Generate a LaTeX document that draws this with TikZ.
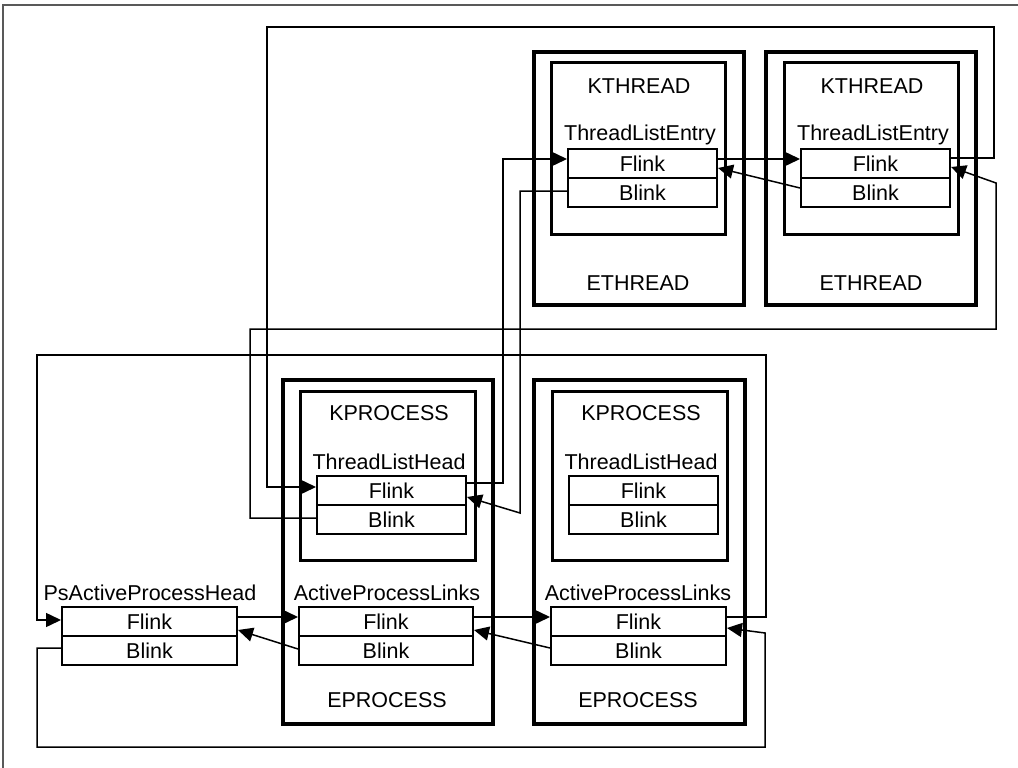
\documentclass[tikz,border=0pt]{standalone}
\usepackage{fontspec}
\setmainfont{Liberation Sans}
\usetikzlibrary{arrows.meta,calc}
\tikzset{
  obox/.style={draw, line width=4pt, inner sep=0pt},
  ibox/.style={draw, line width=3pt, inner sep=0pt},
  cell/.style={draw, line width=2pt, inner sep=0pt, minimum height=29pt},
  lbl/.style={inner sep=0pt},
  conn/.style={line width=1.5pt, -{Triangle[length=15pt,width=14pt]}},
}
\begin{document}
\begin{tikzpicture}[x=1pt,y=-1pt,font=\fontsize{21.5}{25}\selectfont]
\useasboundingbox (0,0) rectangle (1018,768);
\draw[gray!70!black, line width=1.5pt] (3,768) -- (3,5) -- (1018,5);

% ---- threads ----
\node[obox, minimum width=210, minimum height=253] (e1) at (639,178.5) {};
\node[ibox, minimum width=174, minimum height=171] (k1) at (638,148.5) {};
\node[lbl] (k1l) at (639,86) {KTHREAD};
\node[lbl] (t1l) at (640,135) {ThreadListEntry};
\node[cell, minimum width=149] (t1f) at (642.5,163.5) {Flink};
\node[cell, minimum width=149] (t1b) at (642.5,192.5) {Blink};
\node[lbl] (e1l) at (638,283) {ETHREAD};

\node[obox, minimum width=210, minimum height=253] (e2) at (871,178.5) {};
\node[ibox, minimum width=174, minimum height=171] (k2) at (871,148.5) {};
\node[lbl] (k2l) at (872,86) {KTHREAD};
\node[lbl] (t2l) at (873,135) {ThreadListEntry};
\node[cell, minimum width=149] (t2f) at (875.5,163.5) {Flink};
\node[cell, minimum width=149] (t2b) at (875.5,192.5) {Blink};
\node[lbl] (e2l) at (871,283) {ETHREAD};

% ---- processes ----
\node[obox, minimum width=210, minimum height=344] (p1) at (388,552) {};
\node[ibox, minimum width=175, minimum height=169] (kp1) at (387.5,475.5) {};
\node[lbl] (kp1l) at (389,413) {KPROCESS};
\node[lbl] (h1l) at (389,462) {ThreadListHead};
\node[cell, minimum width=149] (tlh1f) at (391.5,490.5) {Flink};
\node[cell, minimum width=149] (tlh1b) at (391.5,519.5) {Blink};
\node[lbl] (a1l) at (387,593) {ActiveProcessLinks};
\node[cell, minimum width=174] (apl1f) at (386,621.5) {Flink};
\node[cell, minimum width=174] (apl1b) at (386,650.5) {Blink};
\node[lbl] (p1l) at (387,700) {EPROCESS};

\node[obox, minimum width=211, minimum height=344] (p2) at (639.5,552) {};
\node[ibox, minimum width=175, minimum height=169] (kp2) at (639.5,475.5) {};
\node[lbl] (kp2l) at (641,413) {KPROCESS};
\node[lbl] (h2l) at (641,462) {ThreadListHead};
\node[cell, minimum width=149] (tlh2f) at (643.5,490.5) {Flink};
\node[cell, minimum width=149] (tlh2b) at (643.5,519.5) {Blink};
\node[lbl] (a2l) at (638,593) {ActiveProcessLinks};
\node[cell, minimum width=175] (apl2f) at (638.5,621.5) {Flink};
\node[cell, minimum width=175] (apl2b) at (638.5,650.5) {Blink};
\node[lbl] (p2l) at (638,700) {EPROCESS};

% ---- list head ----
\node[lbl] (hl) at (150,593) {PsActiveProcessHead};
\node[cell, minimum width=175] (pahf) at (149.5,621.5) {Flink};
\node[cell, minimum width=175] (pahb) at (149.5,650.5) {Blink};

% ---- thread list connectors ----
\draw[conn] ($(t1f.east)+(0,-4.5)$) -- ($(t2f.west)+(0,-4.5)$);
\draw[conn] ($(t2b.west)+(0,-4.5)$) -- ($(t1f.east)+(0,4.5)$);
\draw[conn] ($(t2f.east)+(0,-5.5)$) -| (994,27) -| (267,487) -- ($(tlh1f.west)+(0,-3.5)$);
\draw[conn] ($(tlh1f.east)+(0,-7.5)$) -| (503,159) -- ($(t1f.west)+(0,-4.5)$);
\draw[conn] ($(t1b.west)+(0,-1.5)$) -| (520,513) -- ($(tlh1f.east)+(0,6.5)$);
\draw[conn] ($(tlh1b.west)+(0,-1.5)$) -| (250,329) -| (996,183) -- ($(t2f.east)+(0,3.5)$);

% ---- process list connectors ----
\draw[conn] ($(pahf.east)+(0,-4.5)$) -- ($(apl1f.west)+(0,-4.5)$);
\draw[conn] ($(apl1b.west)+(0,-1.5)$) -- ($(pahf.east)+(0,8.5)$);
\draw[conn] ($(apl1f.east)+(0,-4.5)$) -- ($(apl2f.west)+(0,-4.5)$);
\draw[conn] ($(apl2b.west)+(0,-2.5)$) -- ($(apl1f.east)+(0,8.5)$);
\draw[conn] ($(apl2f.east)+(0,-4.5)$) -| (766,355) -| (37,620) -- ($(pahf.west)+(0,-1.5)$);
\draw[conn] ($(pahb.west)+(0,-2.5)$) -| (37,747) -| (765,633) -- ($(apl2f.east)+(0,6.5)$);
\end{tikzpicture}
\end{document}
